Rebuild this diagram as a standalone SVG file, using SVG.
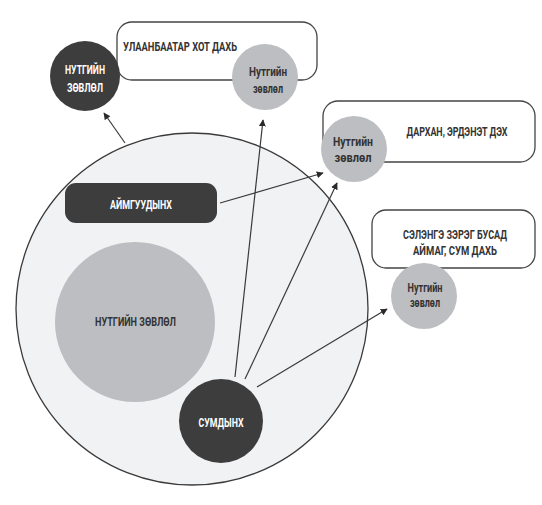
<svg xmlns="http://www.w3.org/2000/svg" width="542" height="505" viewBox="0 0 542 505">
<defs>
<style>
.t{font-family:Roboto,"DejaVu Sans",sans-serif;font-weight:bold;font-size:12px;text-anchor:middle;dominant-baseline:central}
.w{fill:#ffffff}
.k{fill:#333333}
.box{fill:#ffffff;stroke:#444444;stroke-width:1.3}
.dark{fill:#3d3d3d}
.gray{fill:#bdbec1}
.ar{stroke:#3a3a3a;stroke-width:1.2;fill:none;marker-end:url(#ah)}
</style>
<marker id="ah" viewBox="0 0 10 10" refX="9" refY="5" markerWidth="7" markerHeight="7" markerUnits="userSpaceOnUse" orient="auto">
<path d="M0,0 L10,5 L0,10 z" fill="#2a2a2a"/>
</marker>
</defs>
<rect width="542" height="505" fill="#ffffff"/>

<g id="big-circle">
<circle cx="192" cy="309" r="176" fill="#f1f2f4" stroke="#3a3a3a" stroke-width="1.3"/>
</g>

<g id="ub-box">
<rect class="box" x="117" y="22" width="200" height="58" rx="15"/>
<text class="t k" x="180" y="47" textLength="114" lengthAdjust="spacingAndGlyphs">УЛААНБААТАР ХОТ ДАХЬ</text>
</g>

<g id="darkhan-box">
<rect class="box" x="323" y="101" width="212" height="61" rx="15"/>
<text class="t k" x="457" y="132" textLength="101" lengthAdjust="spacingAndGlyphs">ДАРХАН, ЭРДЭНЭТ ДЭХ</text>
</g>

<g id="selenge-box">
<rect class="box" x="372" y="210" width="163" height="58" rx="14"/>
<text class="t k" x="455" y="235" textLength="104" lengthAdjust="spacingAndGlyphs">СЭЛЭНГЭ ЗЭРЭГ БУСАД</text>
<text class="t k" x="455" y="251" textLength="84" lengthAdjust="spacingAndGlyphs">АЙМАГ, СУМ ДАХЬ</text>
</g>

<g id="national-council">
<circle class="dark" cx="85" cy="76" r="35"/>
<text class="t w" x="85" y="70" font-size="11.5" textLength="40" lengthAdjust="spacingAndGlyphs">НУТГИЙН</text>
<text class="t w" x="85" y="88" font-size="11.5" textLength="36" lengthAdjust="spacingAndGlyphs">ЗӨВЛӨЛ</text>
</g>

<g id="ub-council">
<circle class="gray" cx="265" cy="77" r="33"/>
<text class="t k" x="268" y="72" font-size="11" textLength="38" lengthAdjust="spacingAndGlyphs">Нутгийн</text>
<text class="t k" x="268" y="89" font-size="11" textLength="30" lengthAdjust="spacingAndGlyphs">зөвлөл</text>
</g>

<g id="darkhan-council">
<circle class="gray" cx="354" cy="149" r="33"/>
<text class="t k" x="353" y="142" font-size="11" textLength="40" lengthAdjust="spacingAndGlyphs">Нутгийн</text>
<text class="t k" x="353" y="158" font-size="11" textLength="37" lengthAdjust="spacingAndGlyphs">зөвлөл</text>
</g>

<g id="selenge-council">
<circle class="gray" cx="424" cy="296" r="33"/>
<text class="t k" x="425" y="288" font-size="11" textLength="35" lengthAdjust="spacingAndGlyphs">Нутгийн</text>
<text class="t k" x="425" y="303" font-size="11" textLength="30" lengthAdjust="spacingAndGlyphs">зөвлөл</text>
</g>

<g id="aimag">
<rect class="dark" x="65" y="183" width="152" height="40" rx="11"/>
<text class="t w" x="141" y="205" textLength="62" lengthAdjust="spacingAndGlyphs">АЙМГУУДЫНХ</text>
</g>

<g id="local-council">
<circle class="gray" cx="135" cy="322" r="80"/>
<text class="t k" x="135.5" y="322" textLength="81" lengthAdjust="spacingAndGlyphs">НУТГИЙН ЗӨВЛӨЛ</text>
</g>

<g id="sum">
<circle class="dark" cx="221" cy="421" r="42"/>
<text class="t w" x="221" y="423" textLength="45" lengthAdjust="spacingAndGlyphs">СУМДЫНХ</text>
</g>

<g id="connectors">
<line class="ar" x1="125" y1="143" x2="104" y2="113"/>
<line class="ar" x1="235" y1="377" x2="263" y2="120"/>
<line class="ar" x1="245" y1="379" x2="337" y2="183"/>
<line class="ar" x1="220" y1="203" x2="323" y2="173"/>
<line class="ar" x1="257" y1="387" x2="387" y2="309"/>
</g>
</svg>
